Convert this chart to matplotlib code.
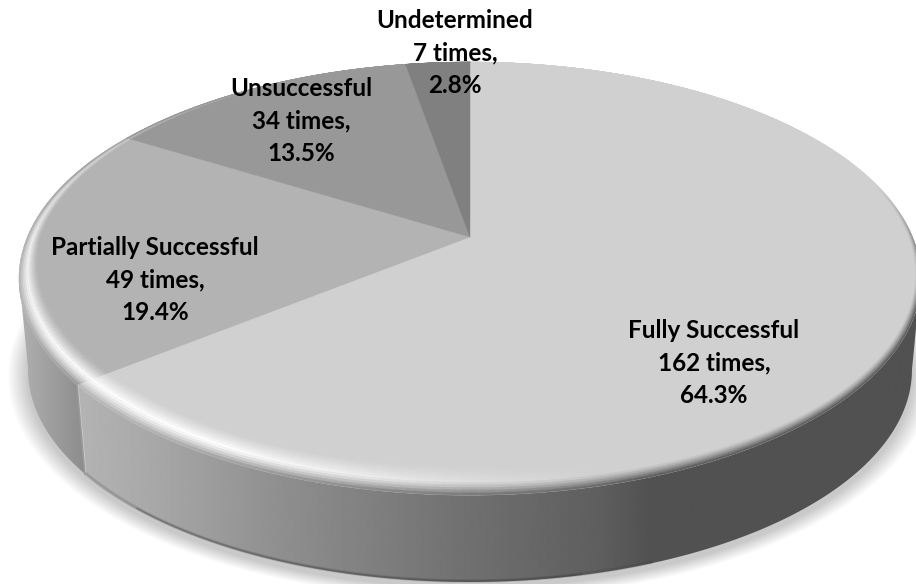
import numpy as np
import matplotlib
matplotlib.use("Agg")
import matplotlib.pyplot as plt
from matplotlib.collections import PolyCollection
from matplotlib.patches import Polygon

names = ["Fully Successful", "Partially Successful", "Unsuccessful", "Undetermined"]
counts = [162, 49, 34, 7]
base_greys = [0.815, 0.70, 0.595, 0.50]
label_x = [714, 155, 301, 455]
label_y = [363, 280, 121, 53]

# perspective disc: far edge is squeezed, near edge stretched
CX, CY = 470, 237
A, B, K = 442.6, 208.6, 0.192
FLOOR_SCALE = 0.98
FLOOR_DROP = 92


def project(r, phi, scale=1.0, drop=0.0):
    # phi is measured clockwise from 12 o'clock, in degrees
    a = np.radians(phi)
    x = r * np.sin(a)
    y = r * np.cos(a)
    w = 1 + K * y
    return CX + scale * A * x / w, CY + drop - scale * B * y / w


def wall_polygon(start, end):
    # clockwise arc of the wall, cut at the silhouette on either side
    phi = np.arange(start, end + 0.5, 1.0)
    xt, yt = project(1.0, phi)
    xb, yb = project(1.0, phi, FLOOR_SCALE, FLOOR_DROP)
    if end > 270:
        t_keep = np.arange(len(phi)) <= np.argmin(xt)
        b_keep = np.arange(len(phi)) <= np.argmin(xb)
    else:
        t_keep = np.arange(len(phi)) >= np.argmax(xt)
        b_keep = np.arange(len(phi)) >= np.argmax(xb)
    return np.column_stack([np.r_[xt[t_keep], xb[b_keep][::-1]],
                            np.r_[yt[t_keep], yb[b_keep][::-1]]])


fig = plt.figure(figsize=(9.16, 5.84), dpi=100)
ax = fig.add_axes([0, 0, 1, 1])
ax.set_xlim(0, 916)
ax.set_ylim(584, 0)
ax.axis("off")

total = sum(counts)
edges = np.r_[0, np.cumsum(counts)] / total * 360

# soft ground shadow
phi_all = np.arange(0, 361, 2.0)
for i in range(18, 0, -1):
    xs, ys = project(1.0, phi_all, FLOOR_SCALE + i * 0.0025, FLOOR_DROP + 5)
    ax.fill(xs, ys, color="black", alpha=0.011, lw=0, zorder=1)

# side walls, shaded left to right
wall_x = [85, 150, 280, 466, 600, 650, 916]
wall_g = [0.70, 0.66, 0.56, 0.44, 0.37, 0.32, 0.32]
left_x = [15, 85]
left_g = [0.70, 0.55]
xgrid = np.arange(0, 917)
walls = [
    (edges[0], edges[1], wall_x, wall_g),
    (edges[1], edges[2], left_x, left_g),
]
for start, end, sx, sg in walls:
    shade = np.interp(xgrid, sx, sg)[None, :]
    im = ax.imshow(shade, extent=[0, 916, 584, 0], aspect="auto", cmap="gray",
                   vmin=0, vmax=1, interpolation="bilinear", zorder=2)
    patch = Polygon(wall_polygon(start, end), closed=True, transform=ax.transData)
    im.set_clip_path(patch)
ax.set_xlim(0, 916)
ax.set_ylim(584, 0)

# seam between the two visible walls
sx0, sy0 = project(1.0, edges[1])
sx1, sy1 = project(1.0, edges[1], FLOOR_SCALE, FLOOR_DROP)
ax.plot([sx0, sx1], [sy0, sy1], color="0.6", lw=1.2, zorder=2.5)

# dark soft line along the lower edge of the wall
for lo, hi, lw, alpha in [(160, 232, 2.5, 0.18), (168, 222, 1.2, 0.28)]:
    phi_low = np.arange(lo, hi, 1.0)
    xl, yl = project(1.0, phi_low, FLOOR_SCALE, FLOOR_DROP - 1)
    ax.plot(xl, yl, color="#333333", alpha=alpha, lw=lw, zorder=3)

# flat top of each slice
for i, g in enumerate(base_greys):
    phi = np.linspace(edges[i], edges[i + 1], 200)
    xs, ys = project(1.0, phi)
    ax.fill(np.r_[CX, xs], np.r_[CY, ys], color=str(g), lw=0.3, zorder=4)

# rounded rim: a band inside the outline, lit from the lower left
lit_phi = [90, 165, 180, 195, 210, 240, 270, 300, 330]
lit_amt = [0.0, 0.0, 0.3, 0.7, 1.0, 0.95, 0.8, 0.35, 0.05]
wid_phi = [0, 60, 90, 135, 180, 225, 270, 300, 360]
wid_val = [0.004, 0.012, 0.02, 0.05, 0.098, 0.08, 0.03, 0.016, 0.004]
polys, cols = [], []
t = np.linspace(0, 1, 13)
for i, g in enumerate(base_greys):
    phi = np.arange(edges[i], edges[i + 1] + 0.01, 1.0)
    if phi[-1] < edges[i + 1]:
        phi = np.r_[phi, edges[i + 1]]
    for p0, p1 in zip(phi[:-1], phi[1:]):
        pm = (p0 + p1) / 2
        wid0 = np.interp(p0, wid_phi, wid_val)
        wid1 = np.interp(p1, wid_phi, wid_val)
        lit = np.interp(pm, lit_phi, lit_amt)
        xm, _ = project(1.0, pm)
        if pm < edges[1]:
            edge_g = np.interp(xm, wall_x, wall_g)
        else:
            edge_g = np.interp(xm, left_x, left_g)
        # back of the disc barely shows any rim shading
        front = np.clip((pm - 75) / 30, 0, 1) * np.clip((320 - pm) / 45, 0, 1)
        edge_g = g + (edge_g - g) * front
        peak_g = g + (1 - g) * lit
        for t0, t1 in zip(t[:-1], t[1:]):
            x00, y00 = project(1 - wid0 * (1 - t0), p0)
            x01, y01 = project(1 - wid0 * (1 - t1), p0)
            x11, y11 = project(1 - wid1 * (1 - t1), p1)
            x10, y10 = project(1 - wid1 * (1 - t0), p1)
            polys.append([(x00, y00), (x01, y01), (x11, y11), (x10, y10)])
            tm = (t0 + t1) / 2
            if tm < 0.55:
                v = g + (peak_g - g) * (tm / 0.55) ** 1.3
            else:
                v = peak_g + (edge_g - peak_g) * ((tm - 0.55) / 0.45) ** 1.3
            cols.append((v, v, v))
rim = PolyCollection(polys, facecolors=cols, edgecolors=cols, linewidths=0.3, zorder=5)
ax.add_collection(rim)

# slice labels
for name, n, x, y in zip(names, counts, label_x, label_y):
    ax.text(x, y, f"{name}\n{n} times,\n{n / total * 100:.1f}%",
            family="Lato", weight="bold", fontsize=17.5, color="black",
            ha="center", va="center", multialignment="center",
            linespacing=1.5, zorder=6)

fig.savefig("out.png", dpi=100)
